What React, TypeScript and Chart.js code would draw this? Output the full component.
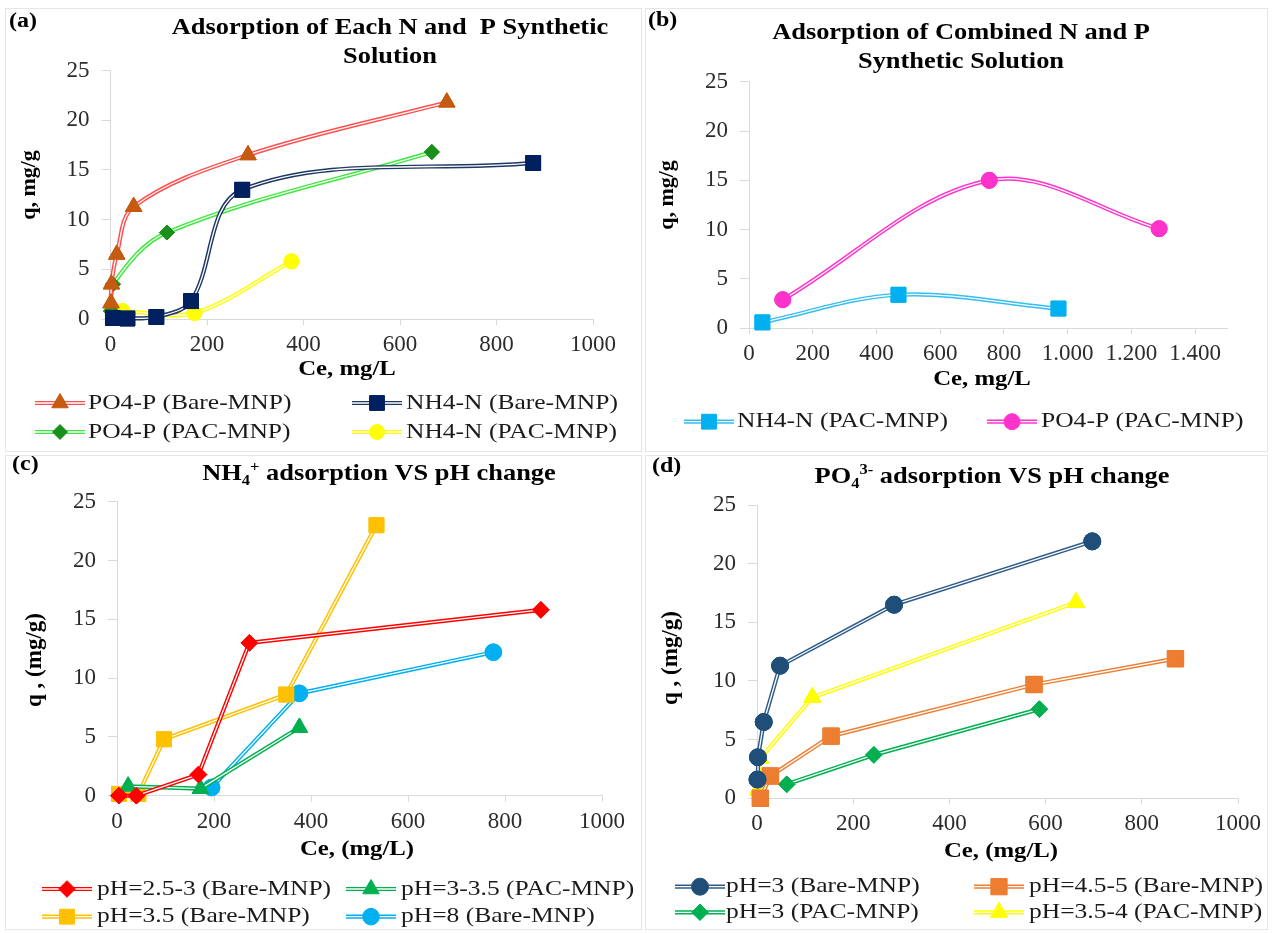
import React, { useEffect, useRef } from 'react';
import { Chart, registerables } from 'chart.js';

Chart.register(...registerables);

const FAM = "'Liberation Serif', 'Times New Roman', serif";
Chart.defaults.font.family = FAM;

// ---------------- Panel (a) data ----------------
const aPo4BareX = [1, 2, 13, 48, 285, 697];
const aPo4BareY = [1.6, 3.5, 6.5, 11.3, 16.5, 21.8];
const aNh4BareX = [5, 35, 95, 167, 273, 876];
const aNh4BareY = [0.1, 0.05, 0.2, 1.8, 13.0, 15.7];
const aPo4PacX = [1, 5, 117, 666];
const aPo4PacY = [0.8, 3.5, 8.7, 16.8];
const aNh4PacX = [25, 174, 375];
const aNh4PacY = [0.8, 0.6, 5.8];

// ---------------- Panel (b) data ----------------
const bNh4PacX = [42, 469, 971];
const bNh4PacY = [0.6, 3.4, 2.0];
const bPo4PacX = [106, 754, 1287];
const bPo4PacY = [2.9, 15.0, 10.1];

// ---------------- Panel (c) data ----------------
const cPh25X = [4, 40, 168, 273, 874];
const cPh25Y = [0, 0, 1.8, 13.0, 15.8];
const cPh3X = [23, 172, 376];
const cPh3Y = [0.8, 0.6, 5.8];
const cPh35X = [4, 44, 97, 349, 535];
const cPh35Y = [0.15, 0.15, 4.8, 8.6, 23.0];
const cPh8X = [195, 376, 776];
const cPh8Y = [0.7, 8.7, 12.2];

// ---------------- Panel (d) data ----------------
const dPh3BareX = [1, 2, 14, 48, 285, 697];
const dPh3BareY = [1.6, 3.5, 6.5, 11.3, 16.5, 21.9];
const dPh45X = [7, 28, 154, 576, 870];
const dPh45Y = [0, 1.9, 5.3, 9.7, 11.9];
const dPh3PacX = [62, 243, 587];
const dPh3PacY = [1.2, 3.7, 7.6];
const dPh354X = [2, 7, 115, 663];
const dPh354Y = [0.7, 3.4, 8.6, 16.7];

// ---------------- tick labels ----------------
const yTickLabels = ['0', '5', '10', '15', '20', '25'];
const xTickLabels1000 = ['0', '200', '400', '600', '800', '1000'];
const xTickLabelsB = ['0', '200', '400', '600', '800', '1.000', '1.200', '1.400'];

type Seg = { t: string; sub?: boolean; sup?: boolean };
type SeriesDef = {
  label: string;
  x: number[];
  y: number[];
  line: string;
  marker: string;
  style: string;
  r: number;
};
type PanelCfg = {
  key: string;
  left: number;
  top: number;
  width: number;
  height: number;
  area: { l: number; r: number; t: number; b: number };
  xMax: number;
  xLabels: string[];
  smooth: boolean;
  tag: string;
  tagPos: [number, number];
  title: Seg[][];
  titleX: number;
  titleY: number[];
  xTitle: string;
  xTitlePos: [number, number];
  yTitle: string;
  yTitlePos: [number, number];
  yTitleSize: number;
  series: SeriesDef[];
  legend: [number, number, number][];
};

const panels: PanelCfg[] = [
  {
    key: 'a', left: 5, top: 8, width: 637, height: 444,
    area: { l: 110.5, r: 593, t: 70.5, b: 319 },
    xMax: 1000, xLabels: xTickLabels1000, smooth: true,
    tag: '(a)', tagPos: [9, 22],
    title: [[{ t: 'Adsorption of Each N and  P Synthetic' }], [{ t: 'Solution' }]],
    titleX: 390, titleY: [28, 57],
    xTitle: 'Ce, mg/L', xTitlePos: [347, 370],
    yTitle: 'q, mg/g', yTitlePos: [29, 185], yTitleSize: 22,
    series: [
      { label: 'PO4-P (Bare-MNP)', x: aPo4BareX, y: aPo4BareY, line: '#ff5050', marker: '#c55a11', style: 'triangle', r: 9.5 },
      { label: 'NH4-N (Bare-MNP)', x: aNh4BareX, y: aNh4BareY, line: '#1f3864', marker: '#002060', style: 'rect', r: 10.5 },
      { label: 'PO4-P (PAC-MNP)', x: aPo4PacX, y: aPo4PacY, line: '#3ee83e', marker: '#1b8f1b', style: 'rectRot', r: 7.5 },
      { label: 'NH4-N (PAC-MNP)', x: aNh4PacX, y: aNh4PacY, line: '#ffff00', marker: '#ffff00', style: 'circle', r: 7.5 },
    ],
    legend: [[60, 88, 403], [377, 406, 403], [60, 88, 432], [377, 406, 432]],
  },
  {
    key: 'b', left: 645, top: 8, width: 623, height: 444,
    area: { l: 749, r: 1227, t: 81.7, b: 328.3 },
    xMax: 1500, xLabels: xTickLabelsB, smooth: true,
    tag: '(b)', tagPos: [648, 21],
    title: [[{ t: 'Adsorption of Combined N and P' }], [{ t: 'Synthetic Solution' }]],
    titleX: 961, titleY: [33, 62],
    xTitle: 'Ce, mg/L', xTitlePos: [982, 380],
    yTitle: 'q, mg/g', yTitlePos: [667, 195], yTitleSize: 22,
    series: [
      { label: 'NH4-N (PAC-MNP)', x: bNh4PacX, y: bNh4PacY, line: '#33bdf2', marker: '#00b0f0', style: 'rect', r: 10.5 },
      { label: 'PO4-P (PAC-MNP)', x: bPo4PacX, y: bPo4PacY, line: '#ff33cc', marker: '#ff33cc', style: 'circle', r: 8 },
    ],
    legend: [[709, 737, 421.7], [1012, 1041, 421.7]],
  },
  {
    key: 'c', left: 5, top: 455, width: 637, height: 475,
    area: { l: 117, r: 602, t: 501.7, b: 795.7 },
    xMax: 1000, xLabels: xTickLabels1000, smooth: false,
    tag: '(c)', tagPos: [12, 465],
    title: [[{ t: 'NH' }, { t: '4', sub: true }, { t: '+', sup: true }, { t: ' adsorption VS pH change' }]],
    titleX: 379, titleY: [474],
    xTitle: 'Ce, (mg/L)', xTitlePos: [357, 850],
    yTitle: 'q , (mg/g)', yTitlePos: [35, 660], yTitleSize: 23,
    series: [
      { label: 'pH=2.5-3 (Bare-MNP)', x: cPh25X, y: cPh25Y, line: '#ff0000', marker: '#ff0000', style: 'rectRot', r: 8.3 },
      { label: 'pH=3-3.5 (PAC-MNP)', x: cPh3X, y: cPh3Y, line: '#00b050', marker: '#00b050', style: 'triangle', r: 9.5 },
      { label: 'pH=3.5 (Bare-MNP)', x: cPh35X, y: cPh35Y, line: '#ffc000', marker: '#ffc000', style: 'rect', r: 10.5 },
      { label: 'pH=8 (Bare-MNP)', x: cPh8X, y: cPh8Y, line: '#00b0f0', marker: '#00b0f0', style: 'circle', r: 8.3 },
    ],
    legend: [[67, 97, 889], [371, 401, 889], [67, 97, 916.7], [371, 401, 916.7]],
  },
  {
    key: 'd', left: 645, top: 455, width: 623, height: 475,
    area: { l: 757, r: 1238, t: 505, b: 798.3 },
    xMax: 1000, xLabels: xTickLabels1000, smooth: false,
    tag: '(d)', tagPos: [652, 467],
    title: [[{ t: 'PO' }, { t: '4', sub: true }, { t: '3-', sup: true }, { t: ' adsorption VS pH change' }]],
    titleX: 992, titleY: [477],
    xTitle: 'Ce, (mg/L)', xTitlePos: [1001, 852],
    yTitle: 'q , (mg/g)', yTitlePos: [671, 658], yTitleSize: 23,
    series: [
      { label: 'pH=3 (Bare-MNP)', x: dPh3BareX, y: dPh3BareY, line: '#2e5b88', marker: '#1f4e79', style: 'circle', r: 8.5 },
      { label: 'pH=4.5-5 (Bare-MNP)', x: dPh45X, y: dPh45Y, line: '#ed7d31', marker: '#ed7d31', style: 'rect', r: 11.5 },
      { label: 'pH=3 (PAC-MNP)', x: dPh3PacX, y: dPh3PacY, line: '#00b050', marker: '#00b050', style: 'rectRot', r: 8.3 },
      { label: 'pH=3.5-4 (PAC-MNP)', x: dPh354X, y: dPh354Y, line: '#ffff00', marker: '#ffff00', style: 'triangle', r: 10 },
    ],
    legend: [[700, 726, 886.7], [999, 1029, 886.7], [700, 726, 912.3], [999, 1029, 912.3]],
  },
];

function markerPath(ctx: CanvasRenderingContext2D, style: string, x: number, y: number, r: number) {
  ctx.beginPath();
  if (style === 'circle') {
    ctx.arc(x, y, r, 0, Math.PI * 2);
  } else if (style === 'rect') {
    const s = r * Math.SQRT1_2;
    ctx.rect(x - s, y - s, 2 * s, 2 * s);
  } else if (style === 'rectRot') {
    ctx.moveTo(x - r, y);
    ctx.lineTo(x, y - r);
    ctx.lineTo(x + r, y);
    ctx.lineTo(x, y + r);
    ctx.closePath();
  } else {
    let a = 0;
    ctx.moveTo(x + Math.sin(a) * r, y - Math.cos(a) * r);
    a += (Math.PI * 2) / 3;
    ctx.lineTo(x + Math.sin(a) * r, y - Math.cos(a) * r);
    a += (Math.PI * 2) / 3;
    ctx.lineTo(x + Math.sin(a) * r, y - Math.cos(a) * r);
    ctx.closePath();
  }
}

function drawText(ctx: CanvasRenderingContext2D, text: string, x: number, y: number, font: string, sx: number, align: string, color: string) {
  ctx.save();
  ctx.font = font;
  ctx.textBaseline = 'middle';
  ctx.textAlign = 'left';
  ctx.fillStyle = color;
  const w = ctx.measureText(text).width * sx;
  const x0 = align === 'center' ? x - w / 2 : align === 'right' ? x - w : x;
  ctx.translate(x0, y);
  ctx.scale(sx, 1);
  ctx.fillText(text, 0, 0);
  ctx.restore();
}

function drawRich(ctx: CanvasRenderingContext2D, segs: Seg[], cx: number, cy: number, size: number, sx: number) {
  ctx.save();
  const base = `bold ${size}px ${FAM}`;
  const small = `bold ${Math.round(size * 0.62)}px ${FAM}`;
  const widths = segs.map((s) => {
    ctx.font = s.sub || s.sup ? small : base;
    return ctx.measureText(s.t).width * sx;
  });
  const total = widths.reduce((p, c) => p + c, 0);
  let x = cx - total / 2;
  ctx.fillStyle = '#000';
  ctx.textBaseline = 'middle';
  ctx.textAlign = 'left';
  segs.forEach((s, i) => {
    ctx.font = s.sub || s.sup ? small : base;
    const dy = s.sub ? size * 0.3 : s.sup ? -size * 0.3 : 0;
    ctx.save();
    ctx.translate(x, cy + dy);
    ctx.scale(sx, 1);
    ctx.fillText(s.t, 0, 0);
    ctx.restore();
    x += widths[i];
  });
  ctx.restore();
}

function makeDecor(cfg: PanelCfg) {
  const ox = cfg.left + 1;
  const oy = cfg.top + 1;
  return {
    id: 'decor_' + cfg.key,
    afterDatasetDraw(chart: any, args: any) {
      const meta = args.meta;
      const line = meta.dataset;
      if (!line || typeof line.path !== 'function') return;
      const ctx: CanvasRenderingContext2D = chart.ctx;
      ctx.save();
      ctx.beginPath();
      line.path(ctx);
      ctx.strokeStyle = '#ffffff';
      ctx.lineWidth = 1.3;
      ctx.lineJoin = 'round';
      ctx.stroke();
      meta.data.forEach((p: any) => p.draw(ctx, chart.chartArea));
      ctx.restore();
    },
    afterDraw(chart: any) {
      const ctx: CanvasRenderingContext2D = chart.ctx;
      drawText(ctx, cfg.tag, cfg.tagPos[0] - ox, cfg.tagPos[1] - oy, `bold 20px ${FAM}`, 1.2, 'left', '#000');
      cfg.title.forEach((segs, i) => drawRich(ctx, segs, cfg.titleX - ox, cfg.titleY[i] - oy, 24, 1.1));
      drawText(ctx, cfg.xTitle, cfg.xTitlePos[0] - ox, cfg.xTitlePos[1] - oy, `bold 21px ${FAM}`, 1.18, 'center', '#000');
      ctx.save();
      ctx.translate(cfg.yTitlePos[0] - ox, cfg.yTitlePos[1] - oy);
      ctx.rotate(-Math.PI / 2);
      drawText(ctx, cfg.yTitle, 0, 0, `bold ${cfg.yTitleSize}px ${FAM}`, 1, 'center', '#000');
      ctx.restore();
      // legend
      cfg.series.forEach((s, i) => {
        const pos = cfg.legend[i];
        if (!pos) return;
        const mx = pos[0] - ox;
        const ty = pos[2] - oy;
        ctx.save();
        ctx.beginPath();
        ctx.moveTo(mx - 25, ty);
        ctx.lineTo(mx + 25, ty);
        ctx.strokeStyle = s.line;
        ctx.lineWidth = 4.2;
        ctx.stroke();
        ctx.beginPath();
        ctx.moveTo(mx - 25, ty);
        ctx.lineTo(mx + 25, ty);
        ctx.strokeStyle = '#ffffff';
        ctx.lineWidth = 1.3;
        ctx.stroke();
        markerPath(ctx, s.style, mx, ty, s.r);
        ctx.fillStyle = s.marker;
        ctx.fill();
        ctx.lineWidth = 1;
        ctx.strokeStyle = s.marker;
        ctx.stroke();
        ctx.restore();
        drawText(ctx, s.label, pos[1] - ox, ty, `22px ${FAM}`, 1.16, 'left', '#1a1a1a');
      });
    },
  };
}

function buildConfig(cfg: PanelCfg): any {
  const ox = cfg.left + 1;
  const oy = cfg.top + 1;
  const cw = cfg.width - 2;
  const ch = cfg.height - 2;
  const L = cfg.area.l - ox;
  const R = cfg.area.r - ox;
  const T = cfg.area.t - oy;
  const B = cfg.area.b - oy;
  const tickFont = { family: FAM, size: 23 };
  return {
    type: 'line',
    data: {
      datasets: cfg.series.map((s) => ({
        label: s.label,
        data: s.x.map((xv, i) => ({ x: xv, y: s.y[i] })),
        borderColor: s.line,
        borderWidth: 4.2,
        borderJoinStyle: 'round',
        backgroundColor: s.marker,
        pointStyle: s.style,
        pointRadius: s.r,
        pointHoverRadius: s.r,
        pointBackgroundColor: s.marker,
        pointBorderColor: s.marker,
        pointBorderWidth: 1,
        tension: cfg.smooth ? 0.35 : 0,
        fill: false,
        clip: false,
      })),
    },
    options: {
      responsive: false,
      maintainAspectRatio: false,
      animation: false,
      events: [],
      layout: { padding: { left: 0, top: T, right: cw - R, bottom: 0 } },
      plugins: {
        legend: { display: false },
        title: { display: false },
        tooltip: { enabled: false },
      },
      scales: {
        x: {
          type: 'linear',
          min: 0,
          max: cfg.xMax,
          ticks: {
            stepSize: 200,
            includeBounds: false,
            autoSkip: false,
            maxRotation: 0,
            font: tickFont,
            color: '#2b2b2b',
            padding: 6,
            callback: (_v: any, i: number) => cfg.xLabels[i],
          },
          grid: { display: true, drawOnChartArea: false, drawTicks: true, tickLength: 6, color: '#d9d9d9' },
          border: { display: true, color: '#d9d9d9', width: 1 },
          afterFit: (scale: any) => {
            scale.height = ch - B;
          },
        },
        y: {
          type: 'linear',
          min: 0,
          max: 25,
          ticks: {
            stepSize: 5,
            autoSkip: false,
            font: tickFont,
            color: '#2b2b2b',
            padding: 12,
            callback: (_v: any, i: number) => yTickLabels[i],
          },
          grid: { display: true, drawOnChartArea: false, drawTicks: true, tickLength: 9, color: '#d9d9d9' },
          border: { display: true, color: '#d9d9d9', width: 1 },
          afterFit: (scale: any) => {
            scale.width = L;
          },
        },
      },
    },
    plugins: [makeDecor(cfg)],
  };
}

function Panel({ cfg }: { cfg: PanelCfg }) {
  const ref = useRef<HTMLCanvasElement>(null);
  useEffect(() => {
    if (!ref.current) return;
    const chart = new Chart(ref.current, buildConfig(cfg));
    return () => chart.destroy();
  }, [cfg]);
  const cw = cfg.width - 2;
  const ch = cfg.height - 2;
  return (
    <div
      style={{
        position: 'absolute',
        left: cfg.left,
        top: cfg.top,
        width: cfg.width,
        height: cfg.height,
        border: '1px solid #e6e6e6',
        boxSizing: 'border-box',
        background: '#fff',
      }}
    >
      <canvas
        ref={ref}
        width={cw}
        height={ch}
        style={{ position: 'absolute', left: 0, top: 0, width: cw, height: ch }}
      />
    </div>
  );
}

export default function App() {
  return (
    <div style={{ position: 'absolute', left: 0, top: 0, width: 1273, height: 933, background: '#fff' }}>
      {panels.map((p) => (
        <Panel key={p.key} cfg={p} />
      ))}
    </div>
  );
}
